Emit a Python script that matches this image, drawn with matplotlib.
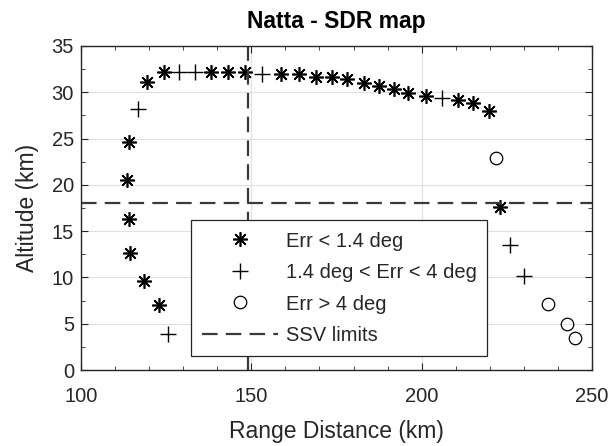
import matplotlib
matplotlib.use("Agg")
import matplotlib.pyplot as plt
from matplotlib.ticker import MultipleLocator

plt.rcParams['font.family'] = ['Liberation Sans', 'DejaVu Sans']

# Err < 1.4 deg
x_good = [113.6, 114.1, 119.3, 124.4, 138.2, 143.1, 148.2, 158.6, 164.0, 169.1,
          173.8, 178.2, 183.1, 187.5, 192.0, 195.9, 201.3, 210.6, 215.2, 219.9,
          223.0, 114.2, 114.5, 118.4, 122.8]
y_good = [20.5, 24.6, 31.1, 32.2, 32.2, 32.2, 32.2, 32.0, 32.0, 31.7,
          31.7, 31.4, 31.0, 30.7, 30.3, 29.9, 29.6, 29.2, 28.8, 28.0,
          17.6, 16.3, 12.6, 9.6, 7.0]

# 1.4 deg < Err < 4 deg
x_mid = [116.6, 128.8, 133.4, 153.2, 206.0, 225.9, 230.0, 125.4]
y_mid = [28.2, 32.2, 32.2, 32.0, 29.4, 13.5, 10.1, 3.9]

# Err > 4 deg
x_bad = [221.9, 237.1, 242.7, 245.1]
y_bad = [22.9, 7.1, 5.0, 3.5]

ssv_range = 149.0
ssv_alt = 18.0

fig = plt.figure(figsize=(6.08, 4.46), dpi=100)
ax = fig.add_axes([0.1332, 0.1704, 0.8405, 0.7265])

txt = '#262626'
ax.grid(True, which='major', color='#dfdfdf', linewidth=0.8)
ax.set_axisbelow(True)

ax.plot(x_good, y_good, linestyle='none', marker=(8, 2, 0), markersize=10.5,
        color='black', markeredgewidth=1.2, label='Err < 1.4 deg')
ax.plot(x_mid, y_mid, linestyle='none', marker='+', markersize=11,
        color='black', markeredgewidth=1.0, label='1.4 deg < Err < 4 deg')
ax.plot(x_bad, y_bad, linestyle='none', marker='o', markersize=9,
        markerfacecolor='none', markeredgecolor='black', markeredgewidth=0.9,
        label='Err > 4 deg')
ax.axhline(ssv_alt, color='#3a3a3a', linestyle=(0, (7, 3.7)), linewidth=1.6,
           label='SSV limits')
ax.axvline(ssv_range, color='#3a3a3a', linestyle=(0, (7, 3.7)), linewidth=1.6)

ax.set_xlim(100, 250)
ax.set_ylim(0, 35)
ax.xaxis.set_major_locator(MultipleLocator(50))
ax.xaxis.set_minor_locator(MultipleLocator(10))
ax.yaxis.set_major_locator(MultipleLocator(5))
ax.yaxis.set_minor_locator(MultipleLocator(2.5))
ax.tick_params(which='both', direction='in', top=True, right=True,
               colors=txt, labelsize=14.5)
ax.tick_params(which='major', length=5)
ax.tick_params(which='minor', length=3)
ax.tick_params(axis='x', which='major', pad=12.5)
ax.tick_params(axis='y', which='major', pad=5)
for s in ax.spines.values():
    s.set_color(txt)
    s.set_linewidth(1.0)

ax.set_xlabel('Range Distance (km)', fontsize=16.5, color=txt, labelpad=10)
ax.set_ylabel('Altitude (km)', fontsize=16.5, color=txt, labelpad=9)
ax.set_title('Natta - SDR map', fontsize=16.5, fontweight='bold', pad=13)

leg = ax.legend(loc='lower left', bbox_to_anchor=(0.215, 0.043), fontsize=14.5,
                fancybox=False, framealpha=1, edgecolor='#262626',
                handlelength=3.8, borderpad=0.55, labelspacing=0.62,
                handletextpad=0.35, borderaxespad=0)
leg.get_frame().set_linewidth(0.9)
for t in leg.get_texts():
    t.set_color(txt)

fig.savefig('out.png', dpi=100)
